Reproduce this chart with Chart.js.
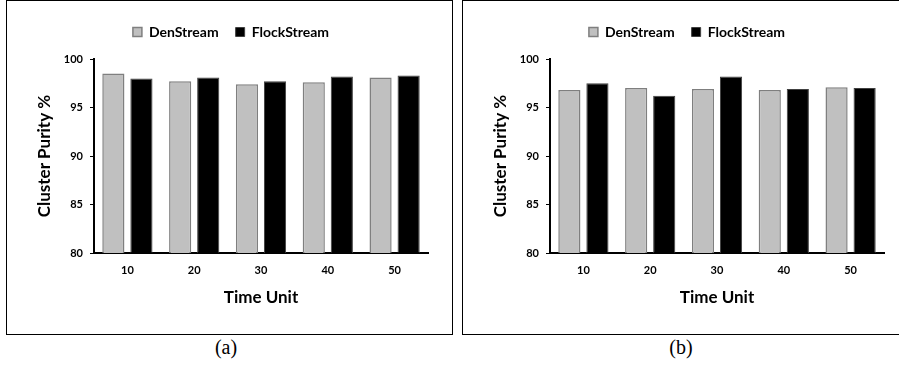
<!DOCTYPE html>
<html>
<head>
<meta charset="utf-8">
<script src="https://cdn.jsdelivr.net/npm/chart.js@4.4.1/dist/chart.umd.min.js"></script>
<style>
  body { margin: 0; background: #fff; width: 899px; height: 368px; overflow: hidden; position: relative; }
  .panel { position: absolute; top: 0; height: 335px; border: 1px solid #000; box-sizing: border-box; }
  canvas { position: absolute; top: 0; }
  .cap { position: absolute; top: 336px; font: 20px "Liberation Serif", "DejaVu Serif", serif; color: #000; transform: translateX(-50%); }
</style>
</head>
<body>
<div class="panel" style="left:6px;width:447px"></div>
<div class="panel" style="left:462px;width:442px"></div>
<canvas id="chart-a" width="446" height="335" style="left:6px"></canvas>
<canvas id="chart-b" width="446" height="335" style="left:462px"></canvas>
<div class="cap" style="left:226px">(a)</div>
<div class="cap" style="left:681px">(b)</div>

<script>
// dados
const timeUnits = ['10', '20', '30', '40', '50'];
const yTicks = [80, 85, 90, 95, 100];

const denStreamA = [98.5, 97.7, 97.4, 97.6, 98.1];
const flockStreamA = [98.0, 98.1, 97.7, 98.2, 98.3];

const denStreamB = [96.8, 97.0, 96.9, 96.8, 97.1];
const flockStreamB = [97.5, 96.2, 98.2, 96.9, 97.0];

Chart.defaults.font.family = 'Lato, "Open Sans", sans-serif';
Chart.defaults.color = '#000';

function makeChart(id, den, flock) {
  const ctx = document.getElementById(id).getContext('2d');
  return new Chart(ctx, {
    type: 'bar',
    data: {
      labels: timeUnits,
      datasets: [{
        label: 'DenStream',
        data: den,
        backgroundColor: '#c0c0c0',
        borderColor: '#7f7f7f',
        borderWidth: 1.5,
        categoryPercentage: 0.84,
        barPercentage: 0.79
      }, {
        label: 'FlockStream',
        data: flock,
        backgroundColor: '#000',
        borderColor: '#404040',
        borderWidth: 1,
        categoryPercentage: 0.84,
        barPercentage: 0.79
      }]
    },
    options: {
      responsive: false,
      animation: false,
      layout: { padding: { left: 28, right: 24, top: 8, bottom: 27 } },
      plugins: {
        tooltip: { enabled: false },
        // titulo vazio usado so como espaco entre a legenda e o grafico
        title: { display: true, text: '', weight: 500, padding: 0, font: { size: 10, lineHeight: 1 } },
        legend: {
          position: 'top',
          labels: {
            boxWidth: 9,
            boxHeight: 9,
            padding: 17,
            font: { size: 14, weight: 'bold' },
            color: '#000'
          }
        }
      },
      scales: {
        x: {
          afterFit: s => { s.height = 55; },
          grid: { display: false, drawTicks: false, tickLength: 0 },
          border: { display: true, color: '#000', width: 2 },
          ticks: { padding: 11, font: { size: 11, weight: 'bold' } },
          title: { display: true, text: 'Time Unit', font: { size: 17, weight: 'bold' }, padding: 0 }
        },
        y: {
          min: 80,
          max: 100,
          afterFit: s => { s.width = 60; },
          afterBuildTicks: s => { s.ticks = yTicks.map(v => ({ value: v })); },
          grid: { display: true, drawOnChartArea: false, drawTicks: true, tickLength: 4, color: '#000', lineWidth: 1 },
          border: { display: true, color: '#000', width: 2 },
          ticks: { padding: 7, font: { size: 11, weight: 'bold' } },
          title: { display: true, text: 'Cluster Purity %', font: { size: 17, weight: 'bold' }, padding: 0 }
        }
      }
    }
  });
}

makeChart('chart-a', denStreamA, flockStreamA);
makeChart('chart-b', denStreamB, flockStreamB);
</script>
</body>
</html>
